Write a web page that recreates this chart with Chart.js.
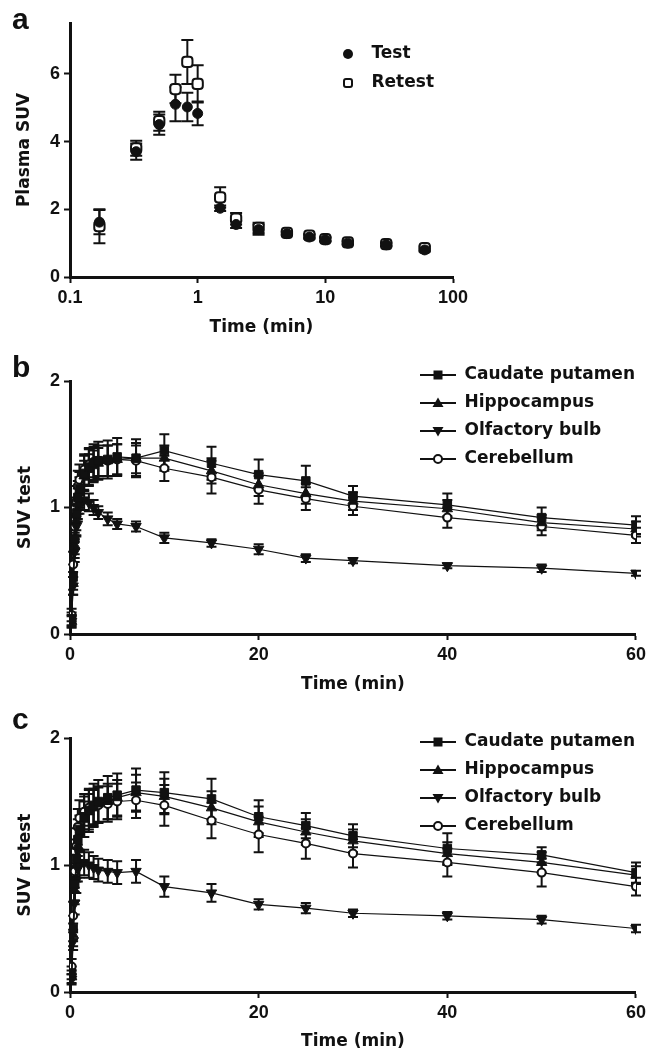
<!DOCTYPE html>
<html><head><meta charset="utf-8">
<script src="https://cdn.jsdelivr.net/npm/chart.js@4.4.1/dist/chart.umd.min.js"></script>
<style>
html,body{margin:0;padding:0;background:#fff;}
#wrap{position:relative;width:650px;height:1052px;overflow:hidden;background:#fff;}
canvas{position:absolute;left:0;}
.lbl{position:absolute;font-family:"Liberation Sans",Arial,sans-serif;font-weight:bold;font-size:30px;color:#111;line-height:30px;}
</style></head><body>
<div id="wrap">
<canvas id="ca" width="650" height="340" style="top:0px"></canvas>
<canvas id="cb" width="650" height="360" style="top:340px"></canvas>
<canvas id="cc" width="650" height="352" style="top:700px"></canvas>
<div class="lbl" style="left:12px;top:4px">a</div>
<div class="lbl" style="left:12px;top:352px">b</div>
<div class="lbl" style="left:12px;top:704px">c</div>
</div>
<script>
// ---------- data ----------
const timesA = [0.17,0.33,0.5,0.67,0.83,1,1.5,2,3,5,7.5,10,15,30,60];
const plasmaTest = [1.62,3.7,4.5,5.1,5.02,4.83,2.03,1.55,1.4,1.28,1.18,1.1,1.0,0.95,0.8];
const plasmaTestErr = [0.36,0.24,0.3,0.5,0.42,0.35,0.08,0.1,0.15,0.05,0.05,0.05,0.04,0.04,0.05];
const plasmaRetest = [1.5,3.8,4.6,5.55,6.35,5.7,2.35,1.72,1.45,1.3,1.22,1.12,1.02,0.97,0.85];
const plasmaRetestErr = [0.5,0.22,0.28,0.42,0.65,0.55,0.3,0.17,0.15,0.05,0.05,0.06,0.05,0.05,0.06];
const xTicksA = [0.1,1,10,100];
const yTicksA = [0,2,4,6];
const legendA = ['Test','Retest'];

const timesBC = [0.17,0.33,0.5,0.67,0.83,1,1.5,2,2.5,3,4,5,7,10,15,20,25,30,40,50,60];
const regions = ['Caudate putamen','Hippocampus','Olfactory bulb','Cerebellum'];

const testCaudate = [0.12,0.45,0.75,0.95,1.08,1.15,1.27,1.32,1.35,1.37,1.38,1.4,1.39,1.45,1.35,1.26,1.21,1.09,1.02,0.92,0.86];
const testCaudateErr = [0.05,0.1,0.12,0.13,0.13,0.13,0.14,0.15,0.15,0.15,0.15,0.15,0.15,0.13,0.13,0.12,0.12,0.08,0.09,0.08,0.07];
const testHippo = [0.1,0.4,0.7,0.9,1.03,1.12,1.25,1.3,1.33,1.35,1.37,1.38,1.39,1.39,1.29,1.18,1.11,1.05,0.99,0.88,0.83];
const testHippoErr = [0.05,0.09,0.1,0.12,0.12,0.12,0.12,0.12,0.12,0.12,0.12,0.12,0.12,0.1,0.1,0.09,0.08,0.07,0.07,0.06,0.06];
const testOlf = [0.1,0.38,0.65,0.85,0.97,1.03,1.06,1.04,1.0,0.96,0.91,0.87,0.85,0.76,0.72,0.67,0.6,0.58,0.54,0.52,0.48];
const testOlfErr = [0.04,0.07,0.08,0.08,0.08,0.08,0.08,0.07,0.06,0.05,0.05,0.04,0.04,0.04,0.03,0.04,0.03,0.02,0.02,0.03,0.02];
const testCereb = [0.15,0.55,0.85,1.05,1.17,1.22,1.3,1.34,1.36,1.37,1.37,1.38,1.37,1.31,1.24,1.14,1.07,1.01,0.92,0.85,0.78];
const testCerebErr = [0.05,0.1,0.1,0.12,0.12,0.12,0.12,0.12,0.12,0.12,0.12,0.12,0.12,0.1,0.13,0.11,0.09,0.07,0.08,0.07,0.06];

const retestCaudate = [0.15,0.5,0.85,1.05,1.2,1.28,1.38,1.43,1.47,1.5,1.53,1.55,1.59,1.57,1.52,1.38,1.31,1.23,1.13,1.08,0.94];
const retestCaudateErr = [0.05,0.1,0.13,0.15,0.16,0.16,0.16,0.17,0.17,0.17,0.17,0.17,0.17,0.16,0.16,0.13,0.1,0.09,0.12,0.06,0.08];
const retestHippo = [0.12,0.45,0.8,1.0,1.15,1.25,1.36,1.42,1.45,1.48,1.5,1.53,1.57,1.54,1.45,1.34,1.26,1.19,1.09,1.02,0.92];
const retestHippoErr = [0.05,0.09,0.11,0.13,0.14,0.14,0.14,0.14,0.14,0.14,0.14,0.14,0.14,0.14,0.13,0.12,0.1,0.09,0.09,0.08,0.07];
const retestOlf = [0.1,0.4,0.7,0.88,0.97,1.0,1.02,1.0,0.98,0.96,0.95,0.94,0.95,0.83,0.78,0.69,0.66,0.62,0.6,0.57,0.5];
const retestOlfErr = [0.04,0.07,0.09,0.1,0.1,0.1,0.1,0.1,0.09,0.09,0.09,0.09,0.09,0.08,0.07,0.04,0.04,0.03,0.03,0.03,0.03];
const retestCereb = [0.2,0.6,0.95,1.15,1.3,1.37,1.42,1.45,1.46,1.47,1.48,1.5,1.51,1.47,1.35,1.24,1.17,1.09,1.02,0.94,0.83];
const retestCerebErr = [0.06,0.11,0.13,0.14,0.14,0.14,0.14,0.14,0.14,0.14,0.14,0.14,0.14,0.16,0.14,0.14,0.12,0.11,0.11,0.11,0.07];

const xTicksBC = [0,20,40,60];
const yTicksBC = [0,1,2];

// ---------- styling ----------
const INK = '#111';
const FONT_T = '"DejaVu Sans", sans-serif';
const FONT_N = '"Liberation Sans", Arial, sans-serif';

function makeIcon(kind, withLine, w) {
  const c = document.createElement('canvas');
  c.width = w; c.height = 16;
  const g = c.getContext('2d');
  const cy = 8, cx = withLine ? w / 2 : 7;
  g.fillStyle = INK; g.strokeStyle = INK;
  if (withLine) g.fillRect(0, cy - 1, w, 2);
  g.beginPath();
  if (kind === 'square') { g.fillRect(cx - 4.5, cy - 4.5, 9, 9); }
  else if (kind === 'up') { g.moveTo(cx, cy - 5.5); g.lineTo(cx + 5.5, cy + 4); g.lineTo(cx - 5.5, cy + 4); g.closePath(); g.fill(); }
  else if (kind === 'down') { g.moveTo(cx, cy + 5.5); g.lineTo(cx + 5.5, cy - 4); g.lineTo(cx - 5.5, cy - 4); g.closePath(); g.fill(); }
  else if (kind === 'ocircle') { g.arc(cx, cy, 4, 0, Math.PI * 2); g.fillStyle = '#fff'; g.fill(); g.lineWidth = 2; g.stroke(); }
  else if (kind === 'dot') { g.arc(cx, cy, 5, 0, Math.PI * 2); g.fill(); }
  else if (kind === 'obox') { g.lineWidth = 2; g.fillStyle = '#fff'; g.roundRect(cx - 4, cy - 4, 8, 8, 2); g.fill(); g.stroke(); }
  return c;
}

const errorBars = {
  id: 'errorBars',
  beforeDatasetsDraw(chart, args, opts) {
    const ctx = chart.ctx, ys = chart.scales.y;
    const cap = opts.cap || 5;
    ctx.save();
    ctx.strokeStyle = INK; ctx.lineWidth = opts.width || 2;
    chart.data.datasets.forEach((ds, di) => {
      if (!ds.errors) return;
      const meta = chart.getDatasetMeta(di);
      meta.data.forEach((pt, i) => {
        const e = ds.errors[i];
        if (!e) return;
        const v = ds.data[i].y;
        const x = pt.x;
        const yt = ys.getPixelForValue(v + e);
        const yb = ys.getPixelForValue(Math.max(v - e, 0));
        ctx.beginPath();
        ctx.moveTo(x, yt); ctx.lineTo(x, yb);
        ctx.moveTo(x - cap, yt); ctx.lineTo(x + cap, yt);
        ctx.moveTo(x - cap, yb); ctx.lineTo(x + cap, yb);
        ctx.stroke();
      });
    });
    ctx.restore();
  }
};

const legendPos = {
  id: 'legendPos',
  afterLayout(chart, args, opts) {
    const lg = chart.legend;
    if (!lg) return;
    lg.left = opts.x; lg.top = opts.y;
    lg.right = lg.left + lg.width; lg.bottom = lg.top + lg.height;
  }
};

function legendOpts(boxW, pad) {
  return {
    display: true, position: 'chartArea', align: 'start',
    labels: {
      usePointStyle: true, pointStyleWidth: boxW, padding: pad, color: INK,
      font: { family: FONT_T, size: 17, weight: 'bold' },
      generateLabels: (chart) => chart.data.datasets.map((ds, i) => ({
        text: ds.label, pointStyle: ds.legendIcon, fontColor: INK,
        fillStyle: INK, strokeStyle: INK, lineWidth: 0, hidden: false, datasetIndex: i
      }))
    }
  };
}

function axisBase(pos) {
  return {
    position: pos,
    border: { display: true, color: INK, width: 3 },
    grid: { display: true, drawOnChartArea: false, drawTicks: true, tickLength: 6, tickWidth: 2, tickColor: INK, color: INK },
    ticks: { color: INK, font: { family: FONT_N, size: 18, weight: 'bold' }, padding: 4, autoSkip: false, maxRotation: 0 }
  };
}

function titleOpts(text, pad) {
  return { display: true, text: text, color: INK, font: { family: FONT_T, size: 17, weight: 'bold' }, padding: pad };
}

function pts(times, vals) { return times.map((t, i) => ({ x: t, y: vals[i] })); }

// ---------- panel a ----------
(function () {
  const H = 340, top = 23, bottom = 277, left = 70, right = 453;
  const x = axisBase('bottom');
  Object.assign(x, {
    type: 'logarithmic', min: 0.1, max: 100,
    afterBuildTicks: s => { s.ticks = xTicksA.map(v => ({ value: v })); },
    afterFit: s => { s.height = H - bottom; },
    title: titleOpts('Time (min)', { top: 0, bottom: 2 })
  });
  x.ticks.callback = v => String(v);
  const y = axisBase('left');
  Object.assign(y, {
    type: 'linear', min: 0, max: 7.5,
    afterBuildTicks: s => { s.ticks = yTicksA.map(v => ({ value: v })); },
    afterFit: s => { s.width = left; },
    title: titleOpts('Plasma SUV', { top: 14, bottom: 0 })
  });
  new Chart(document.getElementById('ca'), {
    type: 'scatter',
    data: { datasets: [
      { label: legendA[0], data: pts(timesA, plasmaTest), errors: plasmaTestErr,
        pointStyle: 'circle', pointRadius: 5, backgroundColor: INK, borderColor: INK, borderWidth: 1,
        legendIcon: makeIcon('dot', false, 22) },
      { label: legendA[1], data: pts(timesA, plasmaRetest), errors: plasmaRetestErr,
        pointStyle: 'rectRounded', pointRadius: 6, backgroundColor: '#fff', borderColor: INK, borderWidth: 2,
        legendIcon: makeIcon('obox', false, 22) }
    ] },
    options: {
      responsive: false, animation: false, events: [],
      layout: { padding: { left: 0, top: top, right: 650 - right, bottom: 0 } },
      scales: { x: x, y: y },
      plugins: {
        legend: legendOpts(22, 12),
        legendPos: { x: 329, y: 33.5 },
        errorBars: { cap: 6, width: 2 },
        tooltip: { enabled: false }
      }
    },
    plugins: [errorBars, legendPos]
  });
})();

// ---------- panels b, c ----------
function brainChart(id, H, top, bottom, yTitle, series, legY) {
  const left = 70, right = 638;
  const x = axisBase('bottom');
  Object.assign(x, {
    type: 'linear', min: 0, max: 60,
    afterBuildTicks: s => { s.ticks = xTicksBC.map(v => ({ value: v })); },
    afterFit: s => { s.height = H - bottom; },
    title: titleOpts('Time (min)', { top: 0, bottom: H === 360 ? 5 : 0 })
  });
  const y = axisBase('left');
  Object.assign(y, {
    type: 'linear', min: 0, max: 2,
    afterBuildTicks: s => { s.ticks = yTicksBC.map(v => ({ value: v })); },
    afterFit: s => { s.width = left; },
    title: titleOpts(yTitle, { top: 15, bottom: 0 })
  });
  const styles = [
    { pointStyle: 'rect', pointRadius: 6, rot: 0, fill: INK, pbw: 1, icon: 'square' },
    { pointStyle: 'triangle', pointRadius: 6, rot: 0, fill: INK, pbw: 1, icon: 'up' },
    { pointStyle: 'triangle', pointRadius: 6, rot: 180, fill: INK, pbw: 1, icon: 'down' },
    { pointStyle: 'circle', pointRadius: 4, rot: 0, fill: '#fff', pbw: 2, icon: 'ocircle' }
  ];
  const datasets = series.map((s, i) => ({
    label: regions[i], data: pts(timesBC, s[0]), errors: s[1],
    showLine: true, borderColor: INK, borderWidth: 1.2, backgroundColor: styles[i].fill,
    pointStyle: styles[i].pointStyle, pointRadius: styles[i].pointRadius, pointRotation: styles[i].rot,
    pointBackgroundColor: styles[i].fill, pointBorderColor: INK, pointBorderWidth: styles[i].pbw,
    legendIcon: makeIcon(styles[i].icon, true, 36)
  }));
  new Chart(document.getElementById(id), {
    type: 'scatter',
    data: { datasets: datasets },
    options: {
      responsive: false, animation: false, events: [],
      layout: { padding: { left: 0, top: top, right: 650 - right, bottom: 0 } },
      scales: { x: x, y: y },
      plugins: {
        legend: legendOpts(36, 11),
        legendPos: { x: 409, y: legY },
        errorBars: { cap: 5, width: 2 },
        tooltip: { enabled: false }
      }
    },
    plugins: [errorBars, legendPos]
  });
}

brainChart('cb', 360, 41, 294, 'SUV test', [
  [testCaudate, testCaudateErr], [testHippo, testHippoErr], [testOlf, testOlfErr], [testCereb, testCerebErr]
], 15.5);
brainChart('cc', 352, 38, 292, 'SUV retest', [
  [retestCaudate, retestCaudateErr], [retestHippo, retestHippoErr], [retestOlf, retestOlfErr], [retestCereb, retestCerebErr]
], 22.5);
</script>
</body></html>
